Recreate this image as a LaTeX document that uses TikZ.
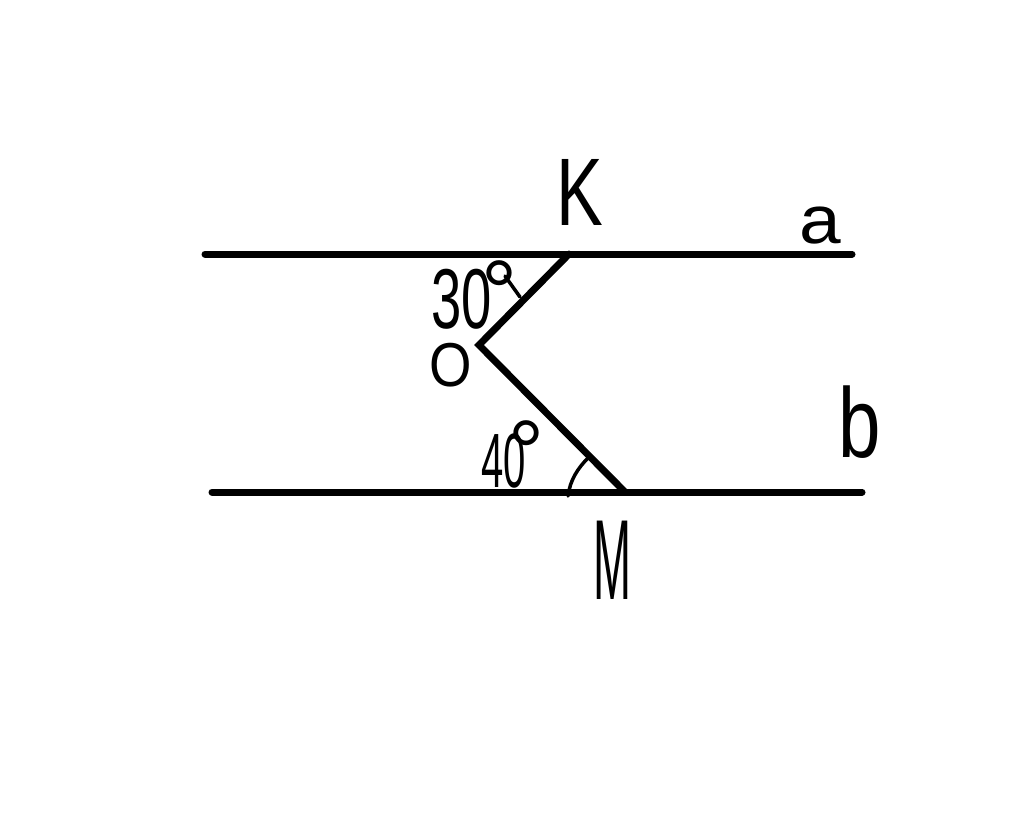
\documentclass[tikz,border=0pt]{standalone}
\usepackage{fontspec}
\setmainfont{Liberation Sans}
\newcommand{\hsz}[2]{\fontsize{#1}{#1}\selectfont #2}
\newcommand{\dgmark}[2]{\hspace{#1}\raisebox{#2}{\hsz{90}{°}}}
\tikzset{
  heavy/.style={line width=7pt,line cap=round,line join=miter,black},
  thinline/.style={line width=3.5pt,line cap=round,black},
  hand/.style={inner sep=0pt,outer sep=0pt,text=black}
}
\begin{document}
\begin{tikzpicture}[x=1pt,y=-1pt]
\useasboundingbox (0,0) rectangle (1024,822);
\coordinate (A1) at (205,254);
\coordinate (A2) at (852,254);
\coordinate (B1) at (212,492);
\coordinate (B2) at (862,492);
\coordinate (Kp) at (569,254);
\coordinate (Op) at (479,345);
\coordinate (Mp) at (625,492);
\draw[heavy] (A1) -- (A2);
\draw[heavy] (B1) -- (B2);
\draw[heavy] (Kp) -- (Op) -- (Mp);
\coordinate (Arc1s) at (505,276);
\coordinate (Arc1e) at (520,297);
\draw[thinline] (Arc1s) -- (Arc1e);
\coordinate (Arc2s) at (568,496);
\coordinate (Arc2e) at (588,458);
\draw[thinline] (Arc2s) .. controls (570,480) and (578,468) .. (Arc2e);
\node[hand,font=\hsz{96}{},xscale=.73] (K) at (580,192) {K};
\node[hand,font=\hsz{68}{},xscale=1.1] (a) at (820,226) {a};
\node[hand,anchor=base west] (ang1) at (431,328) {\hsz{85}{\scalebox{.64}[1]{30}}\dgmark{-10pt}{5pt}};
\node[hand,font=\hsz{62}{},xscale=.88] (O) at (451,365) {O};
\node[hand,anchor=base west] (ang2) at (481,487) {\hsz{77}{\scalebox{.52}[1]{40}}\dgmark{-17pt}{4pt}};
\node[hand,font=\hsz{99}{},xscale=.77] (b) at (860,422) {b};
\node[hand,font=\hsz{114}{},xscale=.4] (M) at (612,560) {M};
\end{tikzpicture}
\end{document}
